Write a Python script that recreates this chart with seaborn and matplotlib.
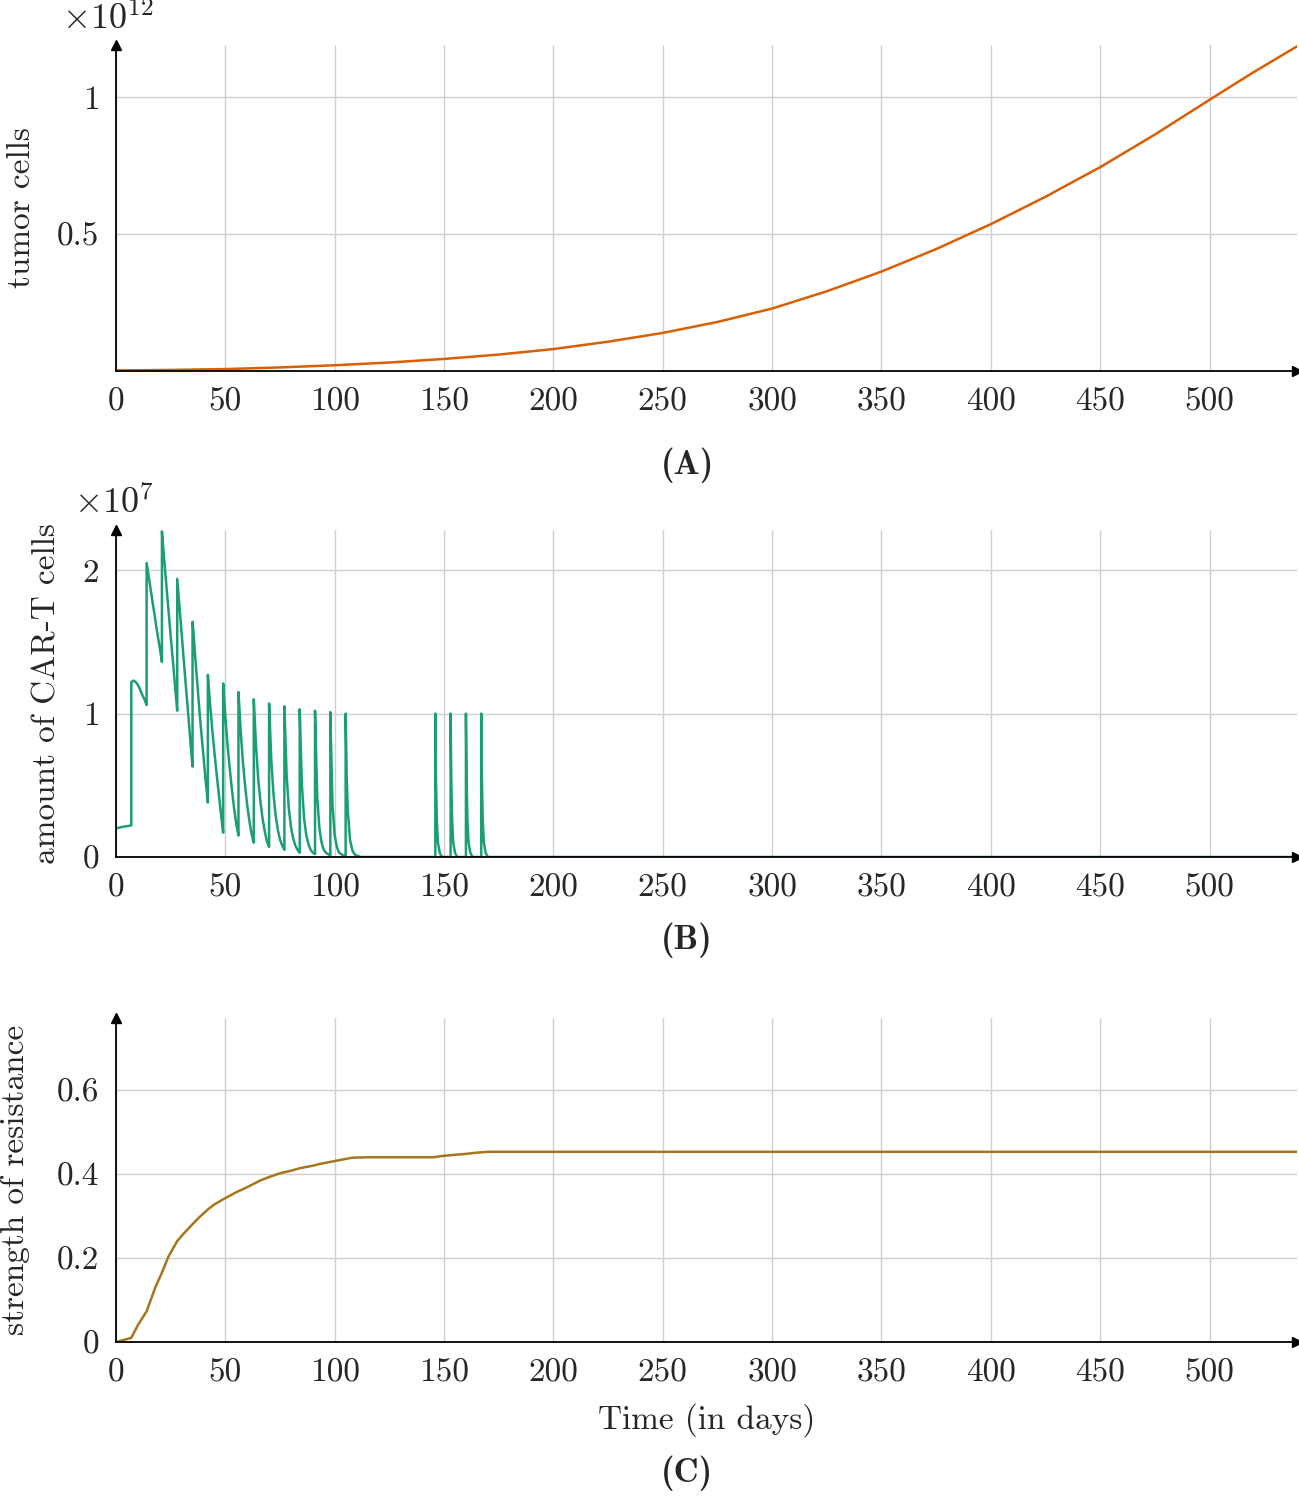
#Import Libraries

import matplotlib
matplotlib.use("Agg")
import matplotlib.pyplot as plt
import seaborn as sns

#Data

tumor_days = [0, 25, 50, 75, 100, 125, 150, 175, 200, 225, 250, 275, 300,
              325, 350, 375, 400, 425, 450, 475, 500, 520, 540]
tumor_cells = [0.002, 0.004, 0.007, 0.013, 0.021, 0.031, 0.044, 0.060, 0.080,
               0.107, 0.139, 0.179, 0.228, 0.291, 0.363, 0.445, 0.536, 0.636,
               0.744, 0.863, 0.990, 1.090, 1.185]  # x 1e12

cart_days = [
    0, 3, 7,
    7, 8, 9, 10, 11, 12, 13, 14,
    14, 15, 16, 17, 18, 19, 20, 21,
    21, 22, 23, 24, 25, 26, 27, 28,
    28, 29, 30, 31, 32, 33, 34, 35,
    35, 35.5, 36, 37, 38, 39, 40, 41, 42,
    42, 43, 44, 45, 46, 47, 48, 49,
    49, 50, 51, 52, 53, 54, 55, 56,
    56, 57, 58, 59, 60, 61, 62, 63,
    63, 64, 65, 66, 67, 68, 69, 70,
    70, 71, 72, 73, 74, 75, 76, 77,
    77, 78, 79, 80, 81, 82, 83, 84,
    84, 85, 86, 87, 88, 89, 90, 91,
    91, 92, 93, 94, 95, 96, 97, 98,
    98, 99, 100, 101, 102, 103, 104, 105,
    105, 105.5, 106, 107, 108, 109, 110, 112,
    146, 146, 146.3, 146.7, 147.2, 148, 149,
    153, 153, 153.3, 153.7, 154.2, 155, 156,
    160, 160, 160.3, 160.7, 161.2, 162, 163,
    167, 167, 167.3, 167.7, 168.2, 169, 170,
    540,
]
cart_cells = [
    0.20, 0.21, 0.22,
    1.22, 1.23, 1.22, 1.20, 1.17, 1.13, 1.10, 1.06,
    2.05, 1.95, 1.85, 1.75, 1.65, 1.55, 1.46, 1.36,
    2.27, 2.08, 1.90, 1.72, 1.54, 1.37, 1.19, 1.02,
    1.94, 1.75, 1.56, 1.37, 1.18, 1.00, 0.81, 0.63,
    1.64, 1.55, 1.44, 1.24, 1.05, 0.87, 0.70, 0.53, 0.38,
    1.27, 1.07, 0.89, 0.73, 0.58, 0.44, 0.30, 0.17,
    1.21, 0.98, 0.78, 0.62, 0.47, 0.34, 0.23, 0.15,
    1.15, 0.88, 0.67, 0.50, 0.36, 0.25, 0.16, 0.10,
    1.10, 0.78, 0.55, 0.39, 0.27, 0.18, 0.11, 0.07,
    1.07, 0.68, 0.44, 0.29, 0.19, 0.12, 0.08, 0.05,
    1.05, 0.58, 0.34, 0.21, 0.13, 0.08, 0.05, 0.03,
    1.03, 0.50, 0.27, 0.15, 0.09, 0.05, 0.03, 0.02,
    1.02, 0.42, 0.20, 0.10, 0.05, 0.03, 0.02, 0.01,
    1.01, 0.36, 0.15, 0.07, 0.03, 0.02, 0.01, 0.01,
    1.00, 0.55, 0.32, 0.12, 0.05, 0.02, 0.01, 0.00,
    0.00, 1.00, 0.55, 0.25, 0.10, 0.03, 0.00,
    0.00, 1.00, 0.55, 0.25, 0.10, 0.03, 0.00,
    0.00, 1.00, 0.55, 0.25, 0.10, 0.03, 0.00,
    0.00, 1.00, 0.55, 0.25, 0.10, 0.03, 0.00,
    0.00,
]  # x 1e7

resist_days = [0, 3, 7, 10, 14, 18, 21, 24, 28, 31, 35, 38, 42, 45, 50, 55,
               60, 66, 70, 75, 80, 84, 90, 93, 100, 105, 108, 115, 130, 145,
               149, 155, 160, 165, 170, 200, 300, 400, 540]
resist_vals = [0, 0.004, 0.010, 0.040, 0.073, 0.130, 0.165, 0.203, 0.240,
               0.258, 0.280, 0.296, 0.315, 0.327, 0.342, 0.356, 0.368, 0.384,
               0.392, 0.401, 0.407, 0.413, 0.419, 0.423, 0.430, 0.435, 0.438,
               0.439, 0.439, 0.439, 0.442, 0.445, 0.447, 0.450, 0.452, 0.452,
               0.452, 0.452, 0.452]

x_ticks = [0, 50, 100, 150, 200, 250, 300, 350, 400, 450, 500]
a_yticks = [0.5, 1]
a_ylabels = ["0.5", "1"]
b_yticks = [0, 1, 2]
b_ylabels = ["0", "1", "2"]
c_yticks = [0, 0.2, 0.4, 0.6]
c_ylabels = ["0", "0.2", "0.4", "0.6"]

#Style

sns.set_style("white")
plt.rcParams["font.family"] = ["cmr10", "DejaVu Serif"]
plt.rcParams["mathtext.fontset"] = "cm"
plt.rcParams["axes.formatter.use_mathtext"] = True
plt.rcParams["axes.unicode_minus"] = False

colors = sns.color_palette("Dark2")
fs = 24

fig = plt.figure(figsize=(12.99, 14.99), dpi=100)

W, H = 1299, 1499
def box(top, bottom, left=116, right=1297):
    return [left / W, 1 - bottom / H, (right - left) / W, (bottom - top) / H]

ax_a = fig.add_axes(box(45, 371))
ax_b = fig.add_axes(box(530, 857))
ax_c = fig.add_axes(box(1018, 1342))

sns.lineplot(x=tumor_days, y=tumor_cells, ax=ax_a, color=colors[1], lw=1.8)
sns.lineplot(x=cart_days, y=cart_cells, ax=ax_b, color=colors[0], lw=1.8,
             sort=False, estimator=None)
sns.lineplot(x=resist_days, y=resist_vals, ax=ax_c, color=colors[6], lw=1.8)

panels = [
    (ax_a, a_yticks, a_ylabels, 1.19, "tumor cells", -0.068),
    (ax_b, b_yticks, b_ylabels, 2.28, "amount of CAR-T cells", -0.046),
    (ax_c, c_yticks, c_ylabels, 0.77, "strength of resistance", -0.073),
]

for ax, yt, yl, ytop, label, lx in panels:
    ax.set_xlim(0, 540)
    ax.set_ylim(0, ytop)
    ax.set_xticks(x_ticks)
    ax.set_xticklabels([str(t) for t in x_ticks], fontsize=fs)
    ax.set_yticks(yt)
    ax.set_yticklabels(yl, fontsize=fs)
    ax.grid(True, color="#cfcfcf", lw=1)
    ax.set_axisbelow(True)
    ax.tick_params(length=6, width=1, color="#b5b5b5", pad=6)
    for s in ["top", "right"]:
        ax.spines[s].set_visible(False)
    for s in ["left", "bottom"]:
        ax.spines[s].set_color("black")
        ax.spines[s].set_linewidth(1.3)
    ax.plot(1, 0, ">k", ms=7, transform=ax.transAxes, clip_on=False)
    ax.plot(0, 1, "^k", ms=7, transform=ax.transAxes, clip_on=False)
    ax.set_ylabel(label, fontsize=fs)
    ax.yaxis.set_label_coords(lx, 0.5)

#Extra text

fig.text(62 / W, 1 - 19 / H, r"$\times10^{12}$", fontsize=26, ha="left", va="center")
fig.text(74 / W, 1 - 503 / H, r"$\times10^{7}$", fontsize=26, ha="left", va="center")
fig.text(687 / W, 1 - 465 / H, "(A)", family="cmb10", fontsize=25, ha="center", va="center")
fig.text(687 / W, 1 - 940 / H, "(B)", family="cmb10", fontsize=25, ha="center", va="center")
fig.text(707 / W, 1 - 1420 / H, "Time (in days)", fontsize=fs, ha="center", va="center")
fig.text(687 / W, 1 - 1473 / H, "(C)", family="cmb10", fontsize=25, ha="center", va="center")

plt.savefig("out.png", dpi=100)
